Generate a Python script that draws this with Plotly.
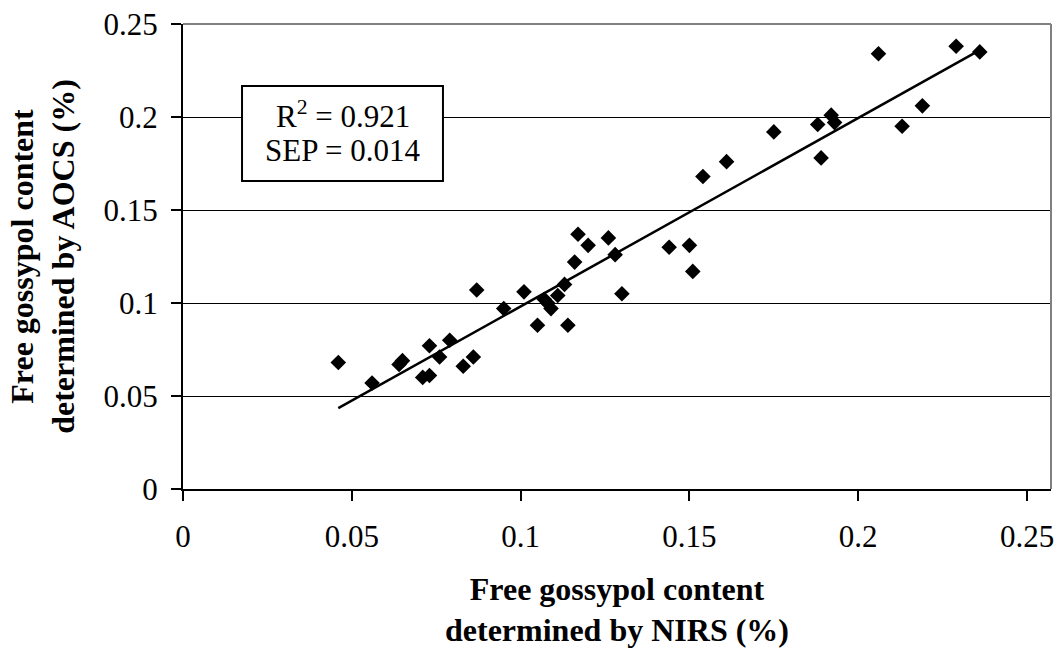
import numpy as np
import plotly.graph_objects as go

# NIRS (x) vs AOCS (y) free gossypol content (%)
nirs = [0.046, 0.056, 0.064, 0.065, 0.071, 0.073, 0.073, 0.076, 0.079, 0.083,
        0.086, 0.087, 0.095, 0.101, 0.105, 0.107, 0.108, 0.109, 0.111, 0.113,
        0.114, 0.116, 0.117, 0.120, 0.126, 0.128, 0.130, 0.144, 0.150, 0.151,
        0.154, 0.161, 0.175, 0.188, 0.189, 0.192, 0.193, 0.206, 0.213, 0.219,
        0.229, 0.236]
aocs = [0.068, 0.057, 0.067, 0.069, 0.060, 0.061, 0.077, 0.071, 0.080, 0.066,
        0.071, 0.107, 0.097, 0.106, 0.088, 0.102, 0.100, 0.097, 0.104, 0.110,
        0.088, 0.122, 0.137, 0.131, 0.135, 0.126, 0.105, 0.130, 0.131, 0.117,
        0.168, 0.176, 0.192, 0.196, 0.178, 0.201, 0.197, 0.234, 0.195, 0.206,
        0.238, 0.235]

x_ticks = [0, 0.05, 0.1, 0.15, 0.2, 0.25]
x_tick_text = ["0", "0.05", "0.1", "0.15", "0.2", "0.25"]
y_ticks = [0, 0.05, 0.1, 0.15, 0.2, 0.25]
y_tick_text = ["0", "0.05", "0.1", "0.15", "0.2", "0.25"]

stats_line1 = "R<sup>2</sup> = 0.921"
stats_line2 = "SEP = 0.014"

x_arr = np.array(nirs)
y_arr = np.array(aocs)
slope, intercept = np.polyfit(x_arr, y_arr, 1)
line_x = np.array([x_arr.min(), x_arr.max()])
line_y = slope * line_x + intercept

FONT = "Liberation Serif, Times New Roman, serif"
TICK_SIZE = 31
TITLE_SIZE = 32

fig = go.Figure()
fig.add_trace(go.Scatter(
    x=line_x, y=line_y, mode="lines",
    line=dict(color="black", width=2.5), showlegend=False, hoverinfo="skip"))
fig.add_trace(go.Scatter(
    x=nirs, y=aocs, mode="markers",
    marker=dict(symbol="diamond", size=12, color="black"),
    showlegend=False))

fig.update_layout(
    width=1059, height=654,
    margin=dict(l=183, r=8, t=24, b=165),
    paper_bgcolor="white", plot_bgcolor="white",
    font=dict(family=FONT, size=TICK_SIZE, color="black"),
    xaxis=dict(
        range=[0, 0.2571], tickvals=x_ticks, ticktext=x_tick_text,
        showgrid=False, zeroline=False, showline=True, linecolor="black",
        linewidth=2, ticks="outside", ticklen=10, tickwidth=2, tickcolor="black",
        tickfont=dict(family=FONT, size=TICK_SIZE), ticklabelstandoff=9,
        automargin=False,
        title=dict(text="<b>Free gossypol content<br>determined by NIRS (%)</b>",
                   font=dict(family=FONT, size=TITLE_SIZE), standoff=24),
    ),
    yaxis=dict(
        range=[0, 0.25], tickvals=y_ticks, ticktext=y_tick_text,
        showgrid=True, gridcolor="black", gridwidth=1,
        zeroline=False, showline=True, linecolor="black",
        linewidth=2, ticks="outside", ticklen=10, tickwidth=2, tickcolor="black",
        tickfont=dict(family=FONT, size=TICK_SIZE), ticklabelstandoff=7,
        automargin=False,
        title=dict(text="<b>Free gossypol content<br>determined by AOCS (%)</b>",
                   font=dict(family=FONT, size=TITLE_SIZE), standoff=19),
    ),
    shapes=[
        dict(type="line", xref="paper", yref="paper", x0=0, x1=1, y0=1, y1=1,
             line=dict(color="#808080", width=2), layer="above"),
        dict(type="line", xref="paper", yref="paper", x0=1, x1=1, y0=0, y1=1,
             line=dict(color="#808080", width=2), layer="above"),
        dict(type="rect", xref="paper", yref="paper",
             x0=0.068, x1=0.2995, y0=0.6624, y1=0.8667,
             fillcolor="white", line=dict(color="black", width=2), layer="above"),
    ],
    annotations=[
        dict(xref="paper", yref="paper", x=0.1838, y=0.806,
             xanchor="center", yanchor="middle",
             text=stats_line1, showarrow=False,
             font=dict(family=FONT, size=31, color="black")),
        dict(xref="paper", yref="paper", x=0.1838, y=0.729,
             xanchor="center", yanchor="middle",
             text=stats_line2, showarrow=False,
             font=dict(family=FONT, size=31, color="black")),
    ],
)

fig.write_html("out.html")
